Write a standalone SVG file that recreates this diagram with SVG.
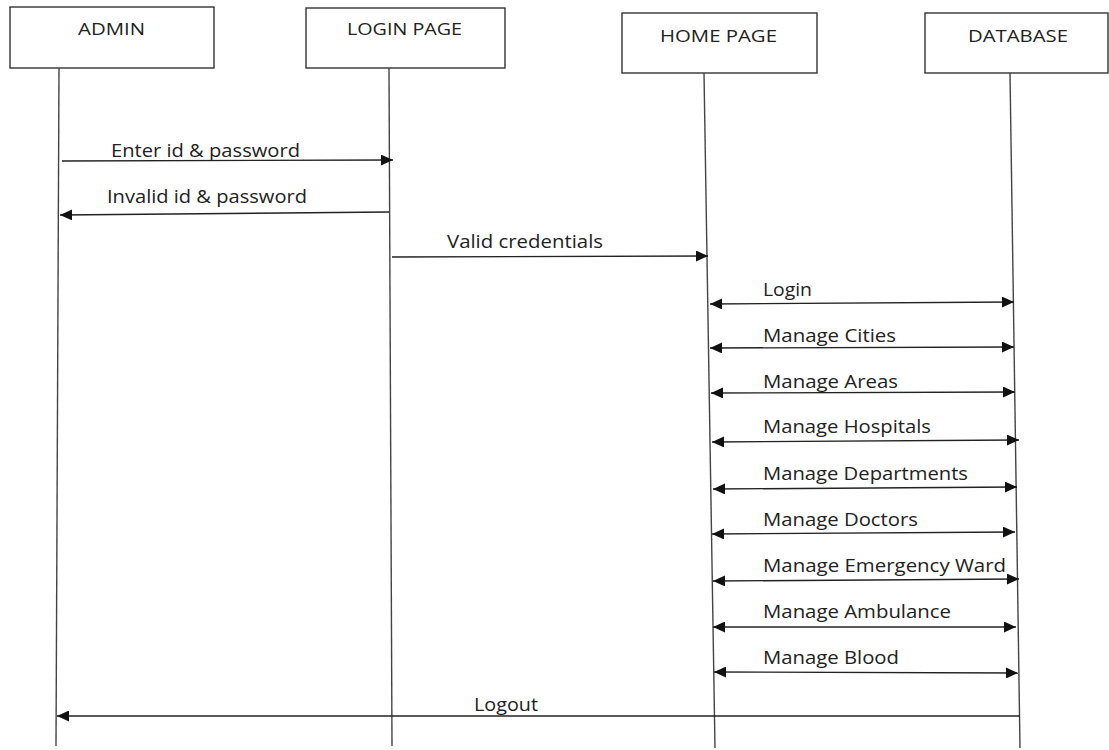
<svg xmlns="http://www.w3.org/2000/svg" width="1109" height="750" viewBox="0 0 1109 750">
<defs>
<marker id="ah" markerUnits="userSpaceOnUse" markerWidth="12" markerHeight="11" refX="12" refY="5.5" orient="auto-start-reverse">
<path d="M0,0 L12,5.5 L0,11 z" fill="#111"/>
</marker>
<style>
.box{fill:#fff;stroke:#333;stroke-width:1.4}
.life{stroke:#444;stroke-width:1.4;fill:none}
.msg{stroke:#222;stroke-width:1.4;fill:none}
.one{marker-end:url(#ah)}
.two{marker-start:url(#ah);marker-end:url(#ah)}
.hd{font-family:"Open Sans","Liberation Sans",sans-serif;font-size:17px;fill:#222}
.lb{font-family:"Open Sans","Liberation Sans",sans-serif;font-size:19px;fill:#222}
</style>
</defs>
<rect width="1109" height="750" fill="#fff"/>
<g id="admin">
<rect class="box" x="10" y="7" width="204" height="61"/>
<text class="hd" x="78" y="35" textLength="67" lengthAdjust="spacingAndGlyphs">ADMIN</text>
<line class="life" x1="59" y1="68" x2="56" y2="746"/>
</g>
<g id="login-page">
<rect class="box" x="306" y="8" width="199" height="60"/>
<text class="hd" x="347" y="35" textLength="115" lengthAdjust="spacingAndGlyphs">LOGIN PAGE</text>
<line class="life" x1="389" y1="68" x2="392" y2="746"/>
</g>
<g id="home-page">
<rect class="box" x="622" y="13" width="195" height="60"/>
<text class="hd" x="660" y="42" textLength="117" lengthAdjust="spacingAndGlyphs">HOME PAGE</text>
<line class="life" x1="704" y1="73" x2="715" y2="748"/>
</g>
<g id="database">
<rect class="box" x="925" y="13" width="183" height="60"/>
<text class="hd" x="968" y="42" textLength="100" lengthAdjust="spacingAndGlyphs">DATABASE</text>
<line class="life" x1="1010" y1="73" x2="1020" y2="748"/>
</g>
<g id="connectors">
<line class="msg one" x1="62" y1="161" x2="393" y2="160"/>
<line class="msg one" x1="389" y1="212" x2="60" y2="215"/>
<line class="msg one" x1="392" y1="257" x2="708" y2="256"/>
<line class="msg two" x1="710" y1="304" x2="1014" y2="302"/>
<line class="msg two" x1="710" y1="348" x2="1014" y2="347"/>
<line class="msg two" x1="711" y1="393" x2="1015" y2="392"/>
<line class="msg two" x1="712" y1="442" x2="1019" y2="440"/>
<line class="msg two" x1="713" y1="489" x2="1017" y2="487"/>
<line class="msg two" x1="712" y1="534" x2="1015" y2="532"/>
<line class="msg two" x1="713" y1="581" x2="1019" y2="579"/>
<line class="msg two" x1="713" y1="627" x2="1016" y2="627"/>
<line class="msg two" x1="714" y1="672" x2="1018" y2="673"/>
<line class="msg one" x1="1020" y1="716" x2="57" y2="716"/>
</g>
<g id="labels">
<text class="lb" x="111" y="157" textLength="189" lengthAdjust="spacingAndGlyphs">Enter id &amp; password</text>
<text class="lb" x="107" y="203" textLength="200" lengthAdjust="spacingAndGlyphs">Invalid id &amp; password</text>
<text class="lb" x="447" y="248" textLength="156" lengthAdjust="spacingAndGlyphs">Valid credentials</text>
<text class="lb" x="763" y="296" textLength="49" lengthAdjust="spacingAndGlyphs">Login</text>
<text class="lb" x="763" y="342" textLength="133" lengthAdjust="spacingAndGlyphs">Manage Cities</text>
<text class="lb" x="763" y="388" textLength="135" lengthAdjust="spacingAndGlyphs">Manage Areas</text>
<text class="lb" x="763" y="433" textLength="168" lengthAdjust="spacingAndGlyphs">Manage Hospitals</text>
<text class="lb" x="763" y="480" textLength="205" lengthAdjust="spacingAndGlyphs">Manage Departments</text>
<text class="lb" x="763" y="526" textLength="155" lengthAdjust="spacingAndGlyphs">Manage Doctors</text>
<text class="lb" x="763" y="572" textLength="243" lengthAdjust="spacingAndGlyphs">Manage Emergency Ward</text>
<text class="lb" x="763" y="618" textLength="188" lengthAdjust="spacingAndGlyphs">Manage Ambulance</text>
<text class="lb" x="763" y="664" textLength="136" lengthAdjust="spacingAndGlyphs">Manage Blood</text>
<text class="lb" x="474" y="711" textLength="64" lengthAdjust="spacingAndGlyphs">Logout</text>
</g>
</svg>
